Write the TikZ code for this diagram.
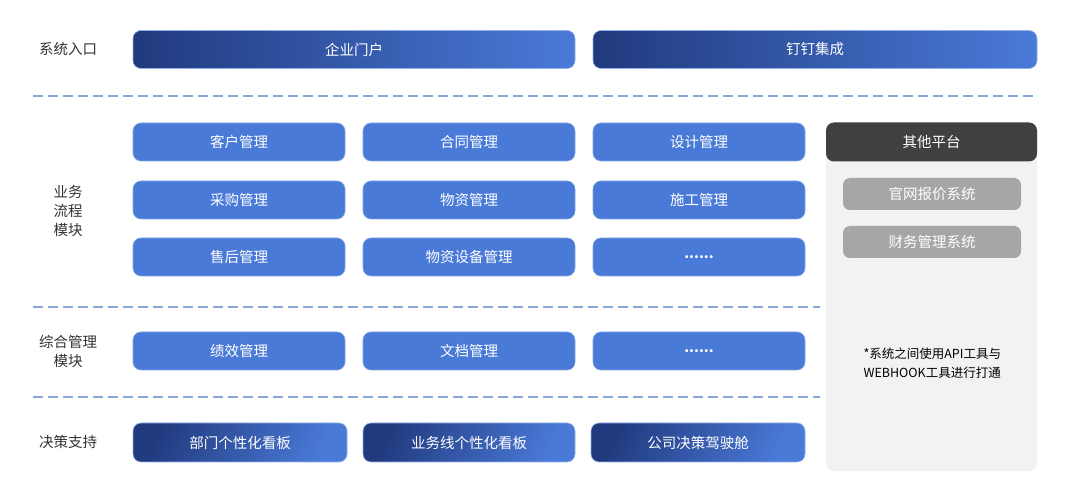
\documentclass[tikz,border=0pt]{standalone}
\usepackage{fontspec}
\setmainfont{Noto Sans CJK SC}
\begin{document}
\begin{tikzpicture}[x=1pt,y=-1pt,
  txt/.style={font=\fontsize{14.5}{17}\selectfont},
  boxbase/.style={txt, rounded corners=8pt, inner sep=0pt, text=white, minimum height=38pt},
  bluebox/.style={boxbase, fill=boxblue, draw=boxblue!70!white, line width=0.6pt},
  gradh/.style={boxbase, left color=navy, right color=boxblue, draw=boxblue!60!white, line width=0.6pt},
  gradd/.style={boxbase, top color=navy, bottom color=boxblue, shading angle=65, draw=boxblue!60!white, line width=0.6pt},
  graybox/.style={txt, rounded corners=7pt, inner sep=0pt, text=white, fill=midgray, minimum width=178pt, minimum height=32pt},
  label/.style={txt, text=labelgray, align=center, font=\fontsize{14.5}{19}\selectfont},
  sep/.style={draw=dashblue, line width=1.6pt, dash pattern=on 10pt off 5pt},
]
\definecolor{boxblue}{HTML}{4A7AD8}
\definecolor{navy}{HTML}{213A7E}
\definecolor{midgray}{HTML}{A6A6A6}
\definecolor{labelgray}{HTML}{333333}
\definecolor{dashblue}{HTML}{8AA6DA}
\definecolor{panelgray}{HTML}{F2F2F2}
\definecolor{darkhead}{HTML}{404040}
\useasboundingbox[fill=white] (0,0) rectangle (1080,486);

% labels
\node[label] (l1) at (68,49) {系统入口};
\node[label] (l2) at (68,211) {业务\\流程\\模块};
\node[label] (l3) at (68,351) {综合管理\\模块};
\node[label] (l4) at (68,442) {决策支持};

% row 1
\node[gradh, minimum width=442pt] (p1) at (354,49.5) {企业门户};
\node[gradh, minimum width=444pt] (p2) at (815,49.5) {钉钉集成};

% separators
\coordinate (s1a) at (33,96); \coordinate (s1b) at (1037,96);
\draw[sep] (s1a) -- (s1b);
\coordinate (s2a) at (33,307); \coordinate (s2b) at (820,307);
\draw[sep] (s2a) -- (s2b);
\coordinate (s3a) at (33,397); \coordinate (s3b) at (820,397);
\draw[sep] (s3a) -- (s3b);

% business modules
\node[bluebox, minimum width=212pt] (b11) at (239,142) {客户管理};
\node[bluebox, minimum width=212pt] (b12) at (469,142) {合同管理};
\node[bluebox, minimum width=212pt] (b13) at (699,142) {设计管理};
\node[bluebox, minimum width=212pt] (b21) at (239,200) {采购管理};
\node[bluebox, minimum width=212pt] (b22) at (469,200) {物资管理};
\node[bluebox, minimum width=212pt] (b23) at (699,200) {施工管理};
\node[bluebox, minimum width=212pt] (b31) at (239,257) {售后管理};
\node[bluebox, minimum width=212pt] (b32) at (469,257) {物资设备管理};
\node[bluebox, minimum width=212pt] (b33) at (699,257) {\fontsize{14}{15}\selectfont\bfseries ......};

% integrated management
\node[bluebox, minimum width=212pt] (c1) at (239,351) {绩效管理};
\node[bluebox, minimum width=212pt] (c2) at (469,351) {文档管理};
\node[bluebox, minimum width=212pt] (c3) at (699,351) {\fontsize{14}{15}\selectfont\bfseries ......};

% decision support
\node[gradd, minimum width=214pt, minimum height=39pt] (d1) at (240,442.5) {部门个性化看板};
\node[gradd, minimum width=212pt, minimum height=39pt] (d2) at (469,442.5) {业务线个性化看板};
\node[gradd, minimum width=214pt, minimum height=39pt] (d3) at (698,442.5) {公司决策驾驶舱};

% other platforms panel
\fill[panelgray, rounded corners=8pt] (826,130) rectangle (1037,471);
\node[txt, rounded corners=8pt, inner sep=0pt, text=white, fill=darkhead, minimum width=211pt, minimum height=39pt] (op) at (931.5,142) {其他平台};
\node[graybox] (g1) at (932,194) {官网报价系统};
\node[graybox] (g2) at (932,242) {财务管理系统};
\node[font=\fontsize{12.5}{19}\selectfont, text=black, align=left, anchor=west] (note) at (860,363.5) {*系统之间使用API工具与\\WEBHOOK工具进行打通};
\end{tikzpicture}
\end{document}
